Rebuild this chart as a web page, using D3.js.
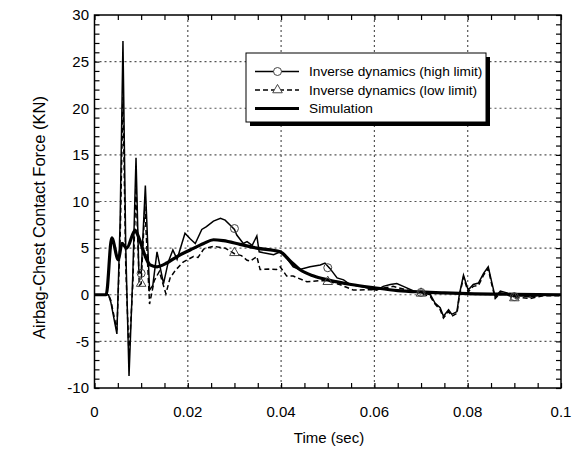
<!DOCTYPE html>
<html>
<head>
<meta charset="utf-8">
<script src="https://cdn.jsdelivr.net/npm/d3@7"></script>
<style>
  body { margin: 0; background: #fff; }
  svg { display: block; font-family: "Liberation Sans", Arial, sans-serif; }
</style>
</head>
<body>
<svg id="chart" width="572" height="455"></svg>
<script>
// data (time in sec, force in KN)
const highT = [0, 0.003, 0.0035, 0.0048, 0.0055, 0.0061, 0.0067, 0.0074, 0.0082, 0.0089, 0.0095, 0.0100, 0.0109, 0.0118, 0.0125, 0.0134, 0.0148, 0.0158, 0.0168, 0.0177, 0.0194, 0.0205, 0.0216, 0.023, 0.024, 0.0255, 0.027, 0.028, 0.029, 0.030, 0.0305, 0.0319, 0.0327, 0.0338, 0.0348, 0.0353, 0.0362, 0.0384, 0.0398, 0.0412, 0.0426, 0.044, 0.0462, 0.0484, 0.0494, 0.0505, 0.052, 0.0534, 0.0548, 0.0569, 0.0605, 0.0619, 0.0634, 0.0648, 0.0662, 0.0684, 0.070, 0.072, 0.073, 0.0741, 0.0748, 0.0759, 0.0766, 0.0777, 0.0782, 0.0791, 0.0801, 0.0812, 0.0823, 0.0834, 0.0844, 0.0852, 0.0859, 0.087, 0.0884, 0.0898, 0.0915, 0.0934, 0.0962, 0.1];
const highV = [0, 0, -0.8, -4.2, 8, 27.2, 5, -8.7, 2, 14.7, 2.5, 2.3, 11.7, 0.5, 1.0, 4.6, 1.2, 3.5, 4.8, 3.8, 6.6, 6.0, 5.5, 7.0, 7.3, 7.9, 8.2, 8.0, 7.5, 7.0, 6.4, 5.5, 5.7, 5.3, 6.3, 4.6, 4.5, 4.3, 4.6, 3.9, 3.0, 2.7, 3.0, 3.2, 3.4, 2.8, 1.8, 1.6, 1.1, 0.9, 0.5, 0.9, 1.1, 1.2, 0.9, 0.4, 0.25, 0.0, -0.9, -1.4, -2.3, -1.6, -2.1, -1.8, 0, 2.1, 0.5, 1.1, 1.25, 2.3, 3.0, 1.25, -0.25, 0.4, 0.2, -0.2, -0.1, -0.25, 0, 0];

const lowT = [0, 0.003, 0.0035, 0.0048, 0.0055, 0.0061, 0.0067, 0.0074, 0.0082, 0.0089, 0.0096, 0.0100, 0.0108, 0.0118, 0.0128, 0.0139, 0.0153, 0.0162, 0.0173, 0.019, 0.0212, 0.0222, 0.0234, 0.0255, 0.028, 0.030, 0.0315, 0.0327, 0.0334, 0.0348, 0.0355, 0.0373, 0.039, 0.0398, 0.0412, 0.0426, 0.0455, 0.048, 0.050, 0.0527, 0.0555, 0.060, 0.064, 0.067, 0.070, 0.072, 0.073, 0.0741, 0.0748, 0.0759, 0.0766, 0.0777, 0.0782, 0.0791, 0.0801, 0.0812, 0.0823, 0.0834, 0.0844, 0.0852, 0.0859, 0.087, 0.0884, 0.090, 0.0915, 0.0934, 0.0962, 0.1];
const lowV = [0, 0, -0.6, -3.8, 6, 21.2, 3, -6.5, 1, 11.5, 1.0, 1.2, 9.5, -1.0, 1.5, 2.5, 0.1, 1.8, 2.6, 3.5, 4.1, 4.0, 4.9, 5.2, 5.0, 4.4, 4.2, 3.7, 3.6, 4.1, 2.7, 2.75, 2.7, 3.0, 2.0, 2.0, 1.4, 1.5, 1.5, 1.07, 0.5, 0.55, 0.9, 0.5, 0.15, -0.2, -1.0, -1.6, -2.5, -1.8, -2.3, -2.0, -0.2, 1.9, 0.3, 0.9, 1.0, 2.1, 2.8, 1.0, -0.4, 0.2, 0.0, -0.35, -0.3, -0.4, -0.1, -0.1];

const simT = [0, 0.0025, 0.0037, 0.0051, 0.0059, 0.0069, 0.0087, 0.0094, 0.0109, 0.0119, 0.0134, 0.0155, 0.0177, 0.0205, 0.0234, 0.0255, 0.0276, 0.0312, 0.0348, 0.0398, 0.042, 0.044, 0.047, 0.05, 0.055, 0.06, 0.065, 0.07, 0.075, 0.08, 0.09, 0.1];
const simV = [0, 0, 6.1, 3.75, 5.5, 5.0, 6.9, 6.25, 4.1, 3.2, 3.0, 3.4, 4.1, 4.8, 5.5, 5.9, 5.8, 5.4, 5.0, 4.6, 3.6, 2.7, 2.0, 1.6, 1.1, 0.75, 0.45, 0.3, 0.2, 0.12, 0.05, 0];

// marker points (every 0.02 s from 0.01)
const markT = [0.01, 0.03, 0.05, 0.07, 0.09];
const highMarkV = [2.3, 7.1, 2.9, 0.25, -0.2];
const lowMarkV = [1.2, 4.5, 1.4, 0.15, -0.35];

const xTicks = [0, 0.02, 0.04, 0.06, 0.08, 0.1];
const yTicks = [-10, -5, 0, 5, 10, 15, 20, 25, 30];
const legendLabels = ["Inverse dynamics (high limit)", "Inverse dynamics (low limit)", "Simulation"];

const svg = d3.select("#chart");
const mLeft = 94.5, mRight = 561, mTop = 15, mBottom = 388;

const x = d3.scaleLinear().domain([0, 0.1]).range([mLeft, mRight]);
const y = d3.scaleLinear().domain([-10, 30]).range([mBottom, mTop]);

// dotted grid
const grid = svg.append("g")
  .attr("stroke", "#555")
  .attr("stroke-width", 1.2)
  .attr("stroke-dasharray", "2,3");
grid.selectAll("line.gx")
  .data(xTicks.slice(1, -1))
  .join("line")
  .attr("class", "gx")
  .attr("x1", d => x(d)).attr("x2", d => x(d))
  .attr("y1", mTop).attr("y2", mBottom);
grid.selectAll("line.gy")
  .data(yTicks.slice(1, -1))
  .join("line")
  .attr("class", "gy")
  .attr("x1", mLeft).attr("x2", mRight)
  .attr("y1", d => y(d)).attr("y2", d => y(d));

// axes with inward minor ticks on all four sides
const xMinor = d3.range(0, 21).map(i => i * 0.005);
const yMinor = d3.range(-10, 31);

svg.append("g")
  .attr("transform", `translate(0,${mBottom})`)
  .call(d3.axisBottom(x).tickValues(xMinor).tickSize(-5).tickFormat(""))
  .call(g => g.select(".domain").remove());
svg.append("g")
  .attr("transform", `translate(0,${mTop})`)
  .call(d3.axisTop(x).tickValues(xMinor).tickSize(-5).tickFormat(""))
  .call(g => g.select(".domain").remove());
svg.append("g")
  .attr("transform", `translate(${mLeft},0)`)
  .call(d3.axisLeft(y).tickValues(yMinor).tickSize(-5).tickFormat(""))
  .call(g => g.select(".domain").remove());
svg.append("g")
  .attr("transform", `translate(${mRight},0)`)
  .call(d3.axisRight(y).tickValues(yMinor).tickSize(-5).tickFormat(""))
  .call(g => g.select(".domain").remove());
svg.selectAll(".tick line").attr("stroke", "#000").attr("stroke-width", 1.2);

// tick labels
svg.append("g")
  .attr("font-size", 15)
  .attr("text-anchor", "middle")
  .selectAll("text")
  .data(xTicks)
  .join("text")
  .attr("x", d => x(d))
  .attr("y", mBottom + 29)
  .text(d => d);
svg.append("g")
  .attr("font-size", 15)
  .attr("text-anchor", "end")
  .selectAll("text")
  .data(yTicks)
  .join("text")
  .attr("x", mLeft - 5.5)
  .attr("y", d => y(d) + 5.3)
  .text(d => d);

// axis titles
svg.append("text")
  .attr("x", 329)
  .attr("y", 443)
  .attr("text-anchor", "middle")
  .attr("font-size", 15)
  .text("Time (sec)");
svg.append("text")
  .attr("transform", `translate(45,${(mTop + mBottom) / 2 + 16}) rotate(-90)`)
  .attr("text-anchor", "middle")
  .attr("font-size", 16.5)
  .text("Airbag-Chest Contact Force (KN)");

// clip lines to plot
svg.append("clipPath").attr("id", "clip")
  .append("rect").attr("x", mLeft).attr("y", mTop).attr("width", mRight - mLeft).attr("height", mBottom - mTop);

const line = d3.line().x(d => x(d[0])).y(d => y(d[1]));
const plot = svg.append("g").attr("clip-path", "url(#clip)");

plot.append("path")
  .datum(d3.zip(lowT, lowV))
  .attr("fill", "none")
  .attr("stroke", "#000")
  .attr("stroke-width", 1.5)
  .attr("stroke-dasharray", "5,3")
  .attr("d", line);
plot.append("path")
  .datum(d3.zip(highT, highV))
  .attr("fill", "none")
  .attr("stroke", "#000")
  .attr("stroke-width", 1.5)
  .attr("d", line);
plot.append("path")
  .datum(d3.zip(simT, simV))
  .attr("fill", "none")
  .attr("stroke", "#000")
  .attr("stroke-width", 3.2)
  .attr("stroke-linejoin", "round")
  .attr("d", line.curve(d3.curveMonotoneX));

const tri = d3.symbol().type(d3.symbolTriangle).size(40);
plot.append("g")
  .selectAll("circle")
  .data(d3.zip(markT, highMarkV))
  .join("circle")
  .attr("cx", d => x(d[0])).attr("cy", d => y(d[1]))
  .attr("r", 4)
  .attr("fill", "none")
  .attr("stroke", "#444")
  .attr("stroke-width", 1);
plot.append("g")
  .selectAll("path")
  .data(d3.zip(markT, lowMarkV))
  .join("path")
  .attr("transform", d => `translate(${x(d[0])},${y(d[1])})`)
  .attr("d", tri)
  .attr("fill", "none")
  .attr("stroke", "#444")
  .attr("stroke-width", 1);

// frame
svg.append("rect")
  .attr("x", mLeft).attr("y", mTop)
  .attr("width", mRight - mLeft).attr("height", mBottom - mTop)
  .attr("fill", "none")
  .attr("stroke", "#000")
  .attr("stroke-width", 1.5);

// legend with drop shadow
const lg = svg.append("g").attr("transform", "translate(246,53)");
const lw = 240, lh = 69;
lg.append("rect").attr("x", 4).attr("y", 4).attr("width", lw).attr("height", lh).attr("fill", "#000");
lg.append("rect").attr("width", lw).attr("height", lh).attr("fill", "#fff").attr("stroke", "#000").attr("stroke-width", 1);
const rows = lg.selectAll("g.row")
  .data(legendLabels)
  .join("g")
  .attr("class", "row")
  .attr("transform", (d, i) => `translate(0,${18.5 + i * 18.5})`);
rows.append("line")
  .attr("x1", 9).attr("x2", 53)
  .attr("stroke", "#000")
  .attr("stroke-width", (d, i) => i === 2 ? 3.2 : 1.5)
  .attr("stroke-dasharray", (d, i) => i === 1 ? "5,3" : null);
rows.filter((d, i) => i === 0).append("circle")
  .attr("cx", 31.5).attr("r", 4).attr("fill", "#fff").attr("stroke", "#444");
rows.filter((d, i) => i === 1).append("path")
  .attr("transform", "translate(31.5,0)")
  .attr("d", tri).attr("fill", "#fff").attr("stroke", "#444");
rows.append("text")
  .attr("x", 63)
  .attr("y", 4.8)
  .attr("font-size", 13.7)
  .text(d => d);
</script>
</body>
</html>
